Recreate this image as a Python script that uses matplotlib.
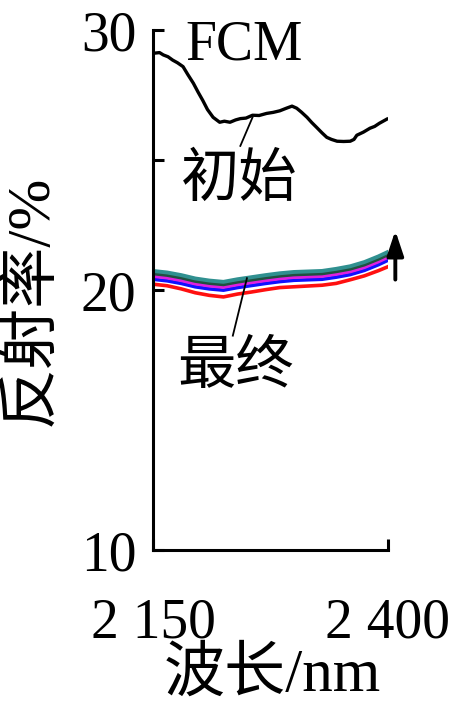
import numpy as np
import matplotlib
matplotlib.use("Agg")
from matplotlib import pyplot as plt

FONT = ['Liberation Serif', 'Noto Sans CJK SC']
plt.rcParams['font.family'] = FONT

# initial FCM spectrum
wl_init = [2152, 2157, 2161, 2166, 2171, 2176, 2182, 2187, 2193, 2198, 2203, 2208,
           2214, 2221, 2226, 2232, 2238, 2243, 2249, 2256, 2263, 2271, 2278, 2285,
           2292, 2298, 2303, 2308, 2314, 2319, 2324, 2330, 2335, 2340, 2346, 2353,
           2360, 2364, 2367, 2374, 2381, 2386, 2391, 2399]
r_init = [29.12, 29.14, 29.05, 28.98, 28.85, 28.75, 28.6, 28.3, 27.96, 27.62, 27.3, 26.95,
          26.65, 26.46, 26.5, 26.46, 26.55, 26.6, 26.62, 26.73, 26.72, 26.8, 26.84, 26.9,
          27.0, 27.08, 27.0, 26.85, 26.65, 26.45, 26.27, 26.05, 25.88, 25.8, 25.73, 25.72,
          25.73, 25.8, 25.96, 26.08, 26.23, 26.3, 26.42, 26.58]

# final spectra
wl_final = [2150, 2165, 2180, 2195, 2210, 2225, 2240, 2255, 2270, 2285, 2300, 2315,
            2330, 2345, 2360, 2375, 2390, 2400]
r_teal = [20.74, 20.68, 20.58, 20.45, 20.37, 20.32, 20.42, 20.50, 20.58, 20.65, 20.70, 20.72,
          20.74, 20.82, 20.92, 21.08, 21.30, 21.47]
r_dark = [20.64, 20.58, 20.48, 20.35, 20.27, 20.22, 20.32, 20.40, 20.48, 20.55, 20.60, 20.62,
          20.64, 20.72, 20.82, 20.98, 21.20, 21.37]
r_mag = [20.54, 20.48, 20.38, 20.25, 20.17, 20.12, 20.22, 20.30, 20.38, 20.45, 20.50, 20.52,
         20.54, 20.62, 20.72, 20.88, 21.10, 21.27]
r_blue = [20.42, 20.36, 20.26, 20.13, 20.05, 20.00, 20.10, 20.18, 20.26, 20.33, 20.38, 20.40,
          20.42, 20.50, 20.60, 20.76, 20.98, 21.15]
r_red = [20.23, 20.17, 20.05, 19.90, 19.80, 19.74, 19.85, 19.93, 20.02, 20.10, 20.13, 20.16,
         20.19, 20.26, 20.40, 20.55, 20.75, 20.90]

fig = plt.figure(figsize=(4.65, 7.2), dpi=100)
ax = fig.add_axes([0.329, 0.236, 0.505, 0.722])

ax.plot(wl_final, r_red, color='#ff1010', lw=2.6)
ax.plot(wl_final, r_blue, color='#1010ff', lw=2.6)
ax.plot(wl_final, r_mag, color='#e020e0', lw=2.6)
ax.plot(wl_final, r_dark, color='#205040', lw=2.6)
ax.plot(wl_final, r_teal, color='#309090', lw=2.8)
ax.plot(wl_init, r_init, color='black', lw=2.4)

ax.set_xlim(2150, 2400)
ax.set_ylim(10, 30)
for s in ['top', 'right']:
    ax.spines[s].set_visible(False)
for s in ['left', 'bottom']:
    ax.spines[s].set_linewidth(2.2)

ax.set_yticks([10, 20, 30])
ax.set_yticks([25], minor=True)
ax.set_xticks([2150, 2400])
ax.set_xticklabels(['2 150', '2 400'])
ax.tick_params(axis='both', which='both', direction='in', length=8, width=2.2, labelsize=40)
ax.tick_params(axis='y', pad=12)
ax.tick_params(axis='x', pad=34)

ax.text(2184, 29.4, 'FCM', fontsize=40, ha='left', va='center')
ax.text(2242, 24.2, '初始', fontsize=42, ha='center', va='center')
ax.text(2238, 17.0, '最终', fontsize=42, ha='center', va='center')
ax.plot([2256, 2243], [26.65, 25.55], color='black', lw=1.3)
ax.plot([2250, 2235], [20.46, 18.25], color='black', lw=1.3)

ax.annotate('', xy=(2408, 22.4), xytext=(2408, 20.3), annotation_clip=False,
            arrowprops=dict(arrowstyle='-|>,head_width=0.5,head_length=1.5',
                            color='black', lw=2.8))

fig.text(0.068, 0.583, '反射率/%', rotation=90, fontsize=44, ha='center', va='center')
fig.text(0.585, 0.062, '波长/nm', fontsize=44, ha='center', va='center')

fig.savefig('out.png', dpi=100)
